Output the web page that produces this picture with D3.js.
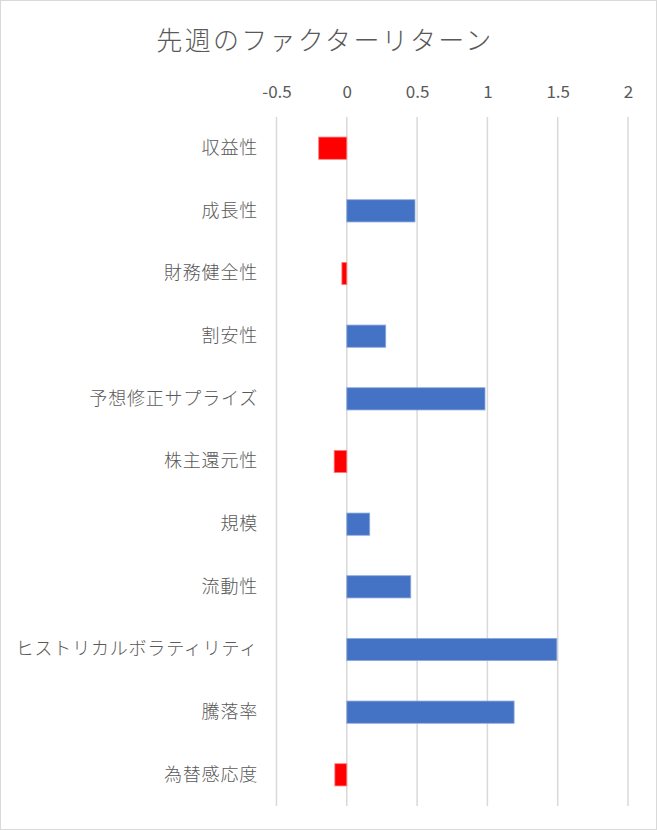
<!DOCTYPE html>
<html>
<head>
<meta charset="utf-8">
<script src="https://cdn.jsdelivr.net/npm/d3@7"></script>
<style>
    body { margin: 0; background: #fff; }
    #chart { width: 657px; height: 830px; }
    text { font-family: "Noto Sans CJK JP", "Noto Sans", sans-serif; fill: #595959; }
</style>
</head>
<body>
<div id="chart"></div>
<script>
// factor names, top to bottom
let factors = ["収益性", "成長性", "財務健全性", "割安性", "予想修正サプライズ", "株主還元性",
    "規模", "流動性", "ヒストリカルボラティリティ", "騰落率", "為替感応度"];
let returns = [-0.2, 0.485, -0.035, 0.277, 0.983, -0.09, 0.163, 0.455, 1.494, 1.19, -0.085];
let tickValues = [-0.5, 0, 0.5, 1, 1.5, 2];
let chartTitle = "先週のファクターリターン";

let data = factors.map((f, i) => ({name: f, value: returns[i]}));

let W = 657, H = 830;
let margin = {top: 117, right: 29, bottom: 24, left: 276.5};

let svg = d3.select("#chart").append("svg")
    .attr("width", W)
    .attr("height", H);

// outer frame
svg.append("rect")
    .attr("x", 0.5).attr("y", 0.5)
    .attr("width", W - 1).attr("height", H - 1)
    .attr("fill", "#fff")
    .attr("stroke", "#d9d9d9");

let x = d3.scaleLinear()
    .domain([-0.5, 2])
    .range([margin.left, W - margin.right]);

let y = d3.scaleBand()
    .domain(factors)
    .range([margin.top, H - margin.bottom])
    .paddingInner(0.645)
    .paddingOuter(0.32);

svg.append("text")
    .attr("x", 325)
    .attr("y", 50)
    .attr("text-anchor", "middle")
    .attr("font-size", 26)
    .attr("letter-spacing", 2.3)
    .attr("font-weight", 300)
    .text(chartTitle);

// gridlines
svg.selectAll(".grid")
    .data(tickValues)
    .enter()
    .append("line")
    .attr("x1", d => x(d)).attr("x2", d => x(d))
    .attr("y1", margin.top).attr("y2", H - margin.bottom)
    .attr("stroke", "#d9d9d9")
    .attr("stroke-width", 1.5);

// top axis
let xAxis = svg.append("g")
    .attr("transform", "translate(0," + 98 + ")")
    .call(d3.axisTop(x).tickValues(tickValues).tickSize(0).tickFormat(d => d));
xAxis.select(".domain").remove();
xAxis.selectAll("text")
    .attr("y", 0)
    .attr("dy", 0)
    .attr("font-size", 17)
    .attr("font-family", null)
    .attr("fill", "#595959");

// category labels
let yAxis = svg.append("g")
    .attr("transform", "translate(" + 258 + ",0)")
    .call(d3.axisLeft(y).tickSize(0).tickPadding(0));
yAxis.select(".domain").remove();
yAxis.selectAll("text")
    .attr("font-size", 18)
    .attr("letter-spacing", 0.8)
    .attr("font-weight", 300)
    .attr("font-family", null)
    .attr("fill", "#595959");

// bars
svg.selectAll(".bar")
    .data(data)
    .enter()
    .append("rect")
    .attr("class", "bar")
    .attr("x", d => x(Math.min(0, d.value)))
    .attr("y", d => y(d.name))
    .attr("width", d => Math.abs(x(d.value) - x(0)))
    .attr("height", y.bandwidth())
    .attr("fill", d => d.value < 0 ? "#ff0000" : "#4472c4")
    .attr("stroke", d => d.value < 0 ? "#ff8080" : "#8fabdc")
    .attr("stroke-width", 0.8);
</script>
</body>
</html>
